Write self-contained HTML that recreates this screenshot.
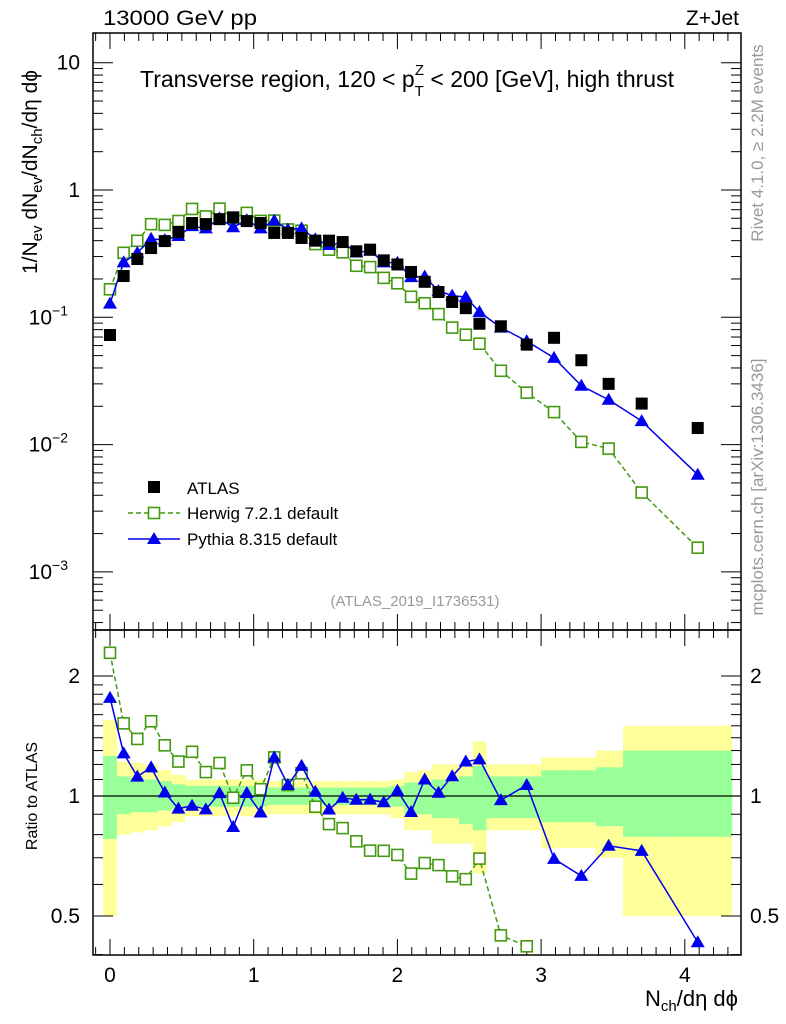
<!DOCTYPE html>
<html><head><meta charset="utf-8">
<style>
html,body{margin:0;padding:0;background:#fff;overflow:hidden;width:786px;height:1024px;}
svg{display:block;font-family:"Liberation Sans",sans-serif;}
</style></head>
<body>
<svg id="chart" width="786" height="1024" viewBox="0 0 786 1024">
</svg>
<script>
const xVals=[0,0.095,0.19,0.286,0.381,0.476,0.571,0.667,0.762,0.857,0.952,1.048,1.143,1.238,1.333,1.429,1.524,1.619,1.714,1.81,1.905,2.0,2.095,2.19,2.286,2.381,2.476,2.571,2.72,2.9,3.09,3.28,3.47,3.70,4.09];
const binEdges=[-0.048,0.048,0.143,0.238,0.333,0.429,0.524,0.619,0.714,0.81,0.905,1.0,1.095,1.19,1.286,1.381,1.476,1.571,1.667,1.762,1.857,1.952,2.048,2.143,2.238,2.333,2.429,2.524,2.62,2.81,3.0,3.19,3.38,3.57,3.86,4.33];
const atlas=[0.0726,0.211,0.287,0.35,0.397,0.468,0.55,0.54,0.59,0.61,0.57,0.55,0.46,0.46,0.42,0.40,0.40,0.39,0.33,0.34,0.28,0.26,0.227,0.19,0.158,0.132,0.118,0.089,0.085,0.061,0.069,0.046,0.030,0.021,0.0135];
const herwig=[0.166,0.321,0.399,0.539,0.532,0.571,0.71,0.62,0.714,0.604,0.661,0.572,0.575,0.49,0.479,0.376,0.34,0.324,0.254,0.248,0.204,0.185,0.145,0.129,0.106,0.083,0.073,0.062,0.038,0.0256,0.018,0.0105,0.0093,0.0042,0.00155];
const pythia=[0.128,0.27,0.321,0.413,0.405,0.435,0.52,0.50,0.60,0.51,0.58,0.50,0.575,0.49,0.50,0.41,0.37,0.386,0.323,0.333,0.27,0.268,0.207,0.209,0.161,0.148,0.144,0.110,0.083,0.065,0.048,0.029,0.0225,0.0153,0.0058];
const yelHi=[1.55,1.22,1.21,1.20,1.16,1.13,1.10,1.10,1.10,1.10,1.10,1.10,1.09,1.09,1.09,1.09,1.09,1.09,1.09,1.09,1.09,1.10,1.15,1.16,1.20,1.20,1.20,1.37,1.20,1.20,1.25,1.25,1.30,1.50,1.50];
const yelLo=[0.50,0.80,0.81,0.82,0.84,0.86,0.89,0.89,0.89,0.89,0.89,0.89,0.90,0.90,0.90,0.90,0.90,0.90,0.90,0.90,0.90,0.88,0.82,0.82,0.76,0.76,0.76,0.64,0.82,0.82,0.74,0.74,0.70,0.50,0.50];
const grnHi=[1.26,1.12,1.11,1.10,1.09,1.07,1.06,1.06,1.06,1.06,1.06,1.06,1.05,1.05,1.05,1.05,1.05,1.05,1.05,1.05,1.05,1.06,1.08,1.08,1.10,1.10,1.12,1.19,1.12,1.12,1.16,1.16,1.18,1.30,1.30];
const grnLo=[0.78,0.90,0.91,0.91,0.92,0.93,0.94,0.94,0.94,0.94,0.94,0.94,0.95,0.95,0.95,0.95,0.95,0.95,0.95,0.95,0.95,0.94,0.90,0.90,0.88,0.88,0.85,0.82,0.88,0.88,0.86,0.86,0.84,0.79,0.79];
const xTicks=[0,1,2,3,4];
const ratioTicks=[0.5,1,2];

const NS="http://www.w3.org/2000/svg";
const svg=document.getElementById('chart');
const L=93,R=741,T=33,MB=630,RB=955;
const X=v=>110+143.7*v;
const Y=v=>190-127.3*Math.log10(v);
const RY=v=>796-120*Math.log2(v);
function el(tag,attrs,parent){const e=document.createElementNS(NS,tag);for(const k in attrs)e.setAttribute(k,attrs[k]);(parent||svg).appendChild(e);return e;}
function txt(s,attrs){const e=el('text',attrs);e.textContent=s;return e;}

const defs=el('defs',{});
const cp=el('clipPath',{id:'rc'},defs);el('rect',{x:L,y:MB,width:R-L,height:RB-MB},cp);
const cm=el('clipPath',{id:'mc'},defs);el('rect',{x:L,y:T,width:R-L,height:MB-T},cm);

const bandG=el('g',{'clip-path':'url(#rc)'});


for(let i=0;i<atlas.length;i++){
  const x0=X(binEdges[i]),x1=X(binEdges[i+1]);
  const ry=el('rect',{x:x0,y:RY(yelHi[i]),width:x1-x0,height:RY(yelLo[i])-RY(yelHi[i]),fill:'#ffff99'},bandG);
  
  
}
for(let i=0;i<atlas.length;i++){
  const x0=X(binEdges[i]),x1=X(binEdges[i+1]);
  const rg=el('rect',{x:x0,y:RY(grnHi[i]),width:x1-x0,height:RY(grnLo[i])-RY(grnHi[i]),fill:'#99ff99'},bandG);
  
  
}
const one=el('line',{x1:L,x2:R,y1:RY(1),y2:RY(1),stroke:'#000','stroke-width':1.2});



const f1=el('rect',{x:L,y:T,width:R-L,height:MB-T,fill:'none',stroke:'#000','stroke-width':1.5});


const f2=el('rect',{x:L,y:MB,width:R-L,height:RB-MB,fill:'none',stroke:'#000','stroke-width':1.5});



for(let k=-1;k<=46;k++){
  const v=k*0.1;const px=X(v);if(px<L||px>R)continue;
  const major=(k%10===0);const len=major?16:8;
  [[T,1],[MB,-1],[MB,1],[RB,-1]].forEach(([y0,d])=>{el('line',{x1:px,x2:px,y1:y0,y2:y0+d*len,stroke:'#000','stroke-width':1});});
}
xTicks.forEach(v=>{const t=txt(String(v),{x:X(v),y:982,'font-size':21,'text-anchor':'middle'});});

for(let e=-4;e<=1;e++){for(let m=1;m<=9;m++){const v=m*Math.pow(10,e);const py=Y(v);if(py<T||py>MB)continue;const len=m===1?20:10;
 el('line',{x1:L,x2:L+len,y1:py,y2:py,stroke:'#000','stroke-width':1});el('line',{x1:R,x2:R-len,y1:py,y2:py,stroke:'#000','stroke-width':1});}}
const ylab=[["10",null,1],["1",null,0],["10","−1",-1],["10","−2",-2],["10","−3",-3]];
ylab.forEach(([b,s,e])=>{const t=el('text',{x:80,y:Y(Math.pow(10,e))+7,'font-size':21,'text-anchor':'end'});
 
 if(s){t.setAttribute('x',68);t.textContent=b;const ts=el('tspan',{dy:-9,'font-size':14},t);ts.textContent=s;}else t.textContent=b;});

[0.4,0.5,0.6,0.7,0.8,0.9,1,2].forEach(v=>{const py=RY(v);const len=(v===0.5||v===1||v===2)?20:10;
 el('line',{x1:L,x2:L+len,y1:py,y2:py,stroke:'#000'});el('line',{x1:R,x2:R-len,y1:py,y2:py,stroke:'#000'});});
for(let v=1.1;v<2;v+=0.1){const py=RY(v);el('line',{x1:L,x2:L+10,y1:py,y2:py,stroke:'#000'});el('line',{x1:R,x2:R-10,y1:py,y2:py,stroke:'#000'});}
ratioTicks.forEach(v=>{const a=txt(String(v),{x:80,y:RY(v)+7,'font-size':21,'text-anchor':'end'});
 const b=txt(String(v),{x:750,y:RY(v)+7,'font-size':21});});

function drawSeries(vals,yf,color,dash,marker,clip,name){
  const g=el('g',{'clip-path':clip});
  
  
  if(color){let d='';vals.forEach((v,i)=>{d+=(i?'L':'M')+X(xVals[i])+','+yf(v,i);});
    el('path',{d:d,fill:'none',stroke:color,'stroke-width':1.5,'stroke-dasharray':dash||'none'},g);}
  vals.forEach((v,i)=>{const cx=X(xVals[i]),cy=yf(v,i);let m;
    if(marker==='sq')m=el('rect',{x:cx-6,y:cy-6,width:12,height:12,fill:'#000'},g);
    else if(marker==='osq')m=el('rect',{x:cx-5.5,y:cy-5.5,width:11,height:11,fill:'#fff',stroke:'#449911','stroke-width':1.6},g);
    else m=el('polygon',{points:`${cx},${cy-7} ${cx-7},${cy+5} ${cx+7},${cy+5}`,fill:'#0000ee'},g);
    
    });
}
drawSeries(herwig,v=>Y(v),'#449911','5,3','osq','url(#mc)','herwig-series');
drawSeries(pythia,v=>Y(v),'#0000ee',null,'tri','url(#mc)','pythia-series');
drawSeries(atlas,v=>Y(v),null,null,'sq','url(#mc)','atlas-series');
drawSeries(herwig,(v,i)=>RY(v/atlas[i]),'#449911','5,3','osq','url(#rc)','herwig-ratio-series');
drawSeries(pythia,(v,i)=>RY(v/atlas[i]),'#0000ee',null,'tri','url(#rc)','pythia-ratio-series');

function T2(s,a,name){const t=txt(s,a);return t;}
T2('13000 GeV pp',{x:103,y:25,'font-size':21,textLength:154,lengthAdjust:'spacingAndGlyphs'},'energy-label');
T2('Z+Jet',{x:739,y:25,'font-size':21,'text-anchor':'end'},'process-label');
const tt=el('text',{x:140,y:87,'font-size':23});

tt.textContent='Transverse region, 120 < p';
let s1=el('tspan',{dy:9,'font-size':15},tt);s1.textContent='T';
let s2=el('tspan',{dx:-9,dy:-21,'font-size':15},tt);s2.textContent='Z';
let s3=el('tspan',{dy:12},tt);s3.textContent=' < 200 [GeV], high thrust';
T2('(ATLAS_2019_I1736531)',{x:415,y:606,'font-size':15,fill:'#999','text-anchor':'middle'},'analysis-id');
T2('Rivet 4.1.0, ≥ 2.2M events',{x:0,y:0,'font-size':17,fill:'#999','text-anchor':'middle',transform:'translate(763,143) rotate(-90)'},'rivet-label');
T2('mcplots.cern.ch [arXiv:1306.3436]',{x:0,y:0,'font-size':17,fill:'#999','text-anchor':'middle',transform:'translate(763,487) rotate(-90)'},'mcplots-label');
const yl=el('text',{x:0,y:0,'font-size':21,'text-anchor':'middle',transform:'translate(37,172) rotate(-90)'});

yl.innerHTML='1/N<tspan font-size="15" dy="5">ev</tspan><tspan dy="-5"> dN</tspan><tspan font-size="15" dy="5">ev</tspan><tspan dy="-5">/dN</tspan><tspan font-size="15" dy="5">ch</tspan><tspan dy="-5">/dη dϕ</tspan>';
T2('Ratio to ATLAS',{x:0,y:0,'font-size':16,'text-anchor':'middle',transform:'translate(37,796) rotate(-90)'},'ratio-axis-title');
const xl=el('text',{x:738,y:1006,'font-size':22,'text-anchor':'end'});

xl.innerHTML='N<tspan font-size="15" dy="5">ch</tspan><tspan dy="-5">/dη dϕ</tspan>';

const lg=el('g',{});


el('rect',{x:148,y:481,width:12,height:12,fill:'#000'},lg);
let t1=txt('ATLAS',{x:187,y:494,'font-size':17});lg.appendChild(t1);
el('line',{x1:128,x2:180,y1:513,y2:513,stroke:'#449911','stroke-width':1.5,'stroke-dasharray':'5,3'},lg);
el('rect',{x:148.5,y:507.5,width:11,height:11,fill:'#fff',stroke:'#449911','stroke-width':1.6},lg);
let t2=txt('Herwig 7.2.1 default',{x:187,y:519,'font-size':17});lg.appendChild(t2);
el('line',{x1:128,x2:180,y1:539,y2:539,stroke:'#0000ee','stroke-width':1.5},lg);
el('polygon',{points:'154,532 147,544 161,544',fill:'#0000ee'},lg);
let t3=txt('Pythia 8.315 default',{x:187,y:545,'font-size':17});lg.appendChild(t3);
</script>
</body></html>
